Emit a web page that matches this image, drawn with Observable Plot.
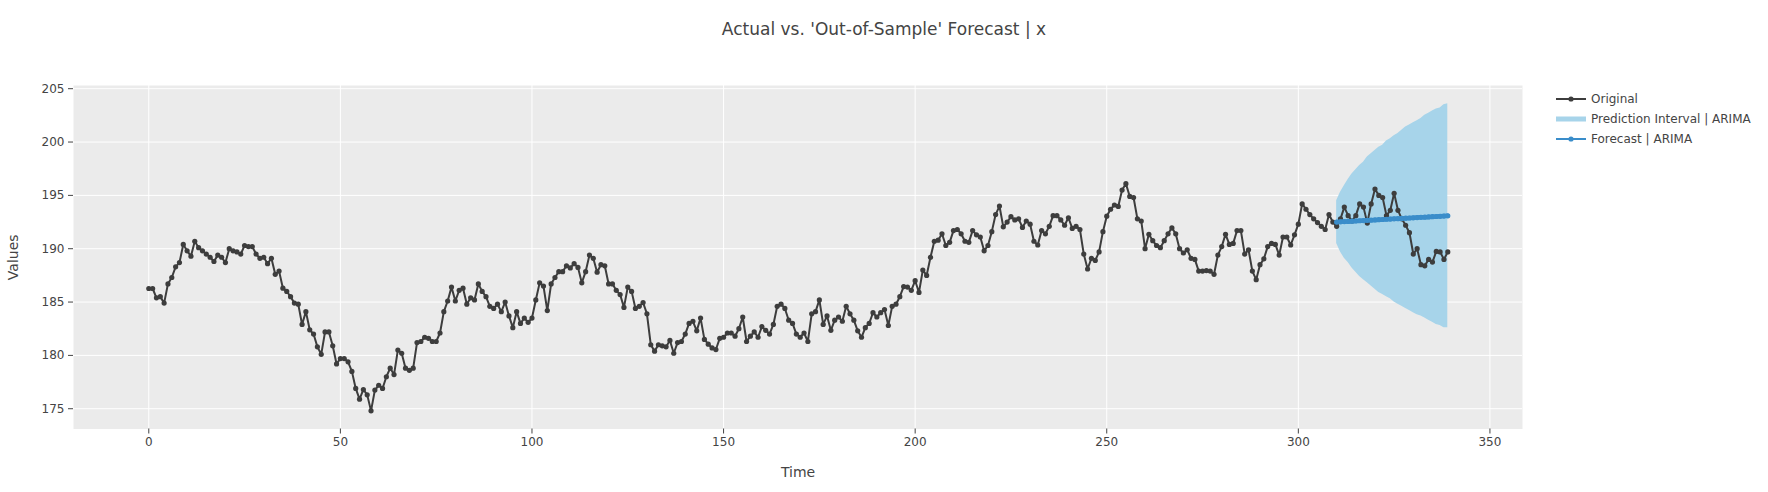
<!DOCTYPE html>
<html>
<head>
<meta charset="utf-8">
<script src="https://cdn.jsdelivr.net/npm/d3@7"></script>
<script src="https://cdn.jsdelivr.net/npm/@observablehq/plot@0.6"></script>
<style>
  body { margin: 0; background: #fff; }
  #wrap { position: relative; width: 1768px; height: 492px; font-family: "DejaVu Sans", Verdana, sans-serif; color: #444; }
  #title { position: absolute; left: 0; width: 1768px; top: 19px; line-height: 20px; text-align: center; font-size: 17px; color: #444; }
  #chart { position: absolute; left: 0; top: 60px; }
  #legend { position: absolute; left: 1556px; top: 89px; font-size: 12px; color: #444; }
  .row { display: flex; align-items: center; height: 20px; }
  .row svg { flex: none; margin-right: 5px; }
</style>
</head>
<body>
<div id="wrap">
  <div id="title">Actual vs. 'Out-of-Sample' Forecast | x</div>
  <div id="chart"></div>
  <div id="legend"></div>
</div>
<script>
// ---- data ----
const originalValues = [
  186.27,186.27,185.4,185.5,184.9,186.7,187.3,188.3,188.7,190.4,
  189.8,189.3,190.7,190.1,189.8,189.5,189.2,188.8,189.4,189.2,
  188.7,190.0,189.8,189.7,189.5,190.3,190.2,190.2,189.5,189.1,
  189.2,188.6,189.1,187.6,187.9,186.3,186.0,185.5,184.9,184.8,
  182.9,184.1,182.4,182.0,180.8,180.1,182.2,182.2,180.9,179.2,
  179.7,179.7,179.4,178.5,176.9,175.9,176.8,176.3,174.8,176.75,
  177.2,176.9,178.0,178.8,178.2,180.5,180.2,178.8,178.6,178.8,
  181.2,181.3,181.7,181.6,181.3,181.3,182.1,184.1,185.1,186.4,
  185.1,186.1,186.3,184.8,185.4,185.2,186.7,186.0,185.5,184.6,
  184.4,184.8,184.1,185.0,183.7,182.6,184.1,183.0,183.5,183.1,
  183.5,185.2,186.8,186.5,184.2,186.7,187.3,187.85,187.85,188.4,
  188.2,188.6,188.25,186.8,187.85,189.4,189.1,187.8,188.5,188.4,
  186.7,186.7,186.1,185.7,184.5,186.4,186.0,184.4,184.6,184.95,
  183.9,181.0,180.4,181.0,180.9,180.8,181.4,180.2,181.2,181.3,
  182.0,183.0,183.2,182.3,183.5,181.5,181.05,180.7,180.55,181.6,
  181.7,182.1,182.1,181.8,182.5,183.6,181.3,181.8,182.2,181.7,
  182.7,182.35,182.0,182.9,184.6,184.8,184.4,183.3,183.0,182.0,
  181.7,182.1,181.3,183.9,184.1,185.2,182.9,183.7,182.35,183.3,
  183.6,183.2,184.6,183.9,183.3,182.3,181.7,182.6,183.0,184.0,
  183.6,184.0,184.3,182.8,184.6,184.8,185.5,186.45,186.4,186.1,
  187.0,185.9,188.0,187.5,189.2,190.7,190.8,191.4,190.3,190.6,
  191.7,191.8,191.4,190.7,190.6,191.7,191.3,191.1,189.8,190.3,
  191.6,193.2,194.0,192.05,192.5,193.0,192.7,192.8,192.0,192.6,
  192.3,190.7,190.35,191.7,191.4,192.1,193.1,193.1,192.7,192.2,
  192.9,191.9,192.1,191.8,189.5,188.1,189.1,188.9,189.7,191.6,
  193.05,193.7,194.1,193.96,195.5,196.1,194.9,194.8,192.8,192.6,
  190.0,191.35,190.75,190.3,190.1,190.75,191.4,191.95,191.4,190.0,
  189.6,189.9,189.1,189.0,187.9,187.9,187.95,187.9,187.6,189.4,
  190.2,191.35,190.4,190.5,191.7,191.7,189.5,189.9,187.9,187.1,
  188.5,189.05,190.2,190.5,190.4,189.4,191.1,191.1,190.35,191.3,
  192.3,194.2,193.7,193.2,192.8,192.45,192.1,191.8,193.2,192.5,
  192.1,192.8,193.9,193.1,192.6,193.1,194.2,193.9,192.4,194.2,
  195.6,195.0,194.8,193.1,193.6,195.2,193.6,192.8,192.2,191.5,
  189.5,190.0,188.5,188.4,189.0,188.75,189.75,189.7,189.0,189.7
];
const forecastTimes = [310,311,312,313,314,315,316,317,318,319,320,321,322,323,324,325,326,327,328,329,330,331,332,333,334,335,336,337,338,339];
const forecastValues = [192.50,192.52,192.54,192.56,192.58,192.60,192.62,192.64,192.66,192.68,192.70,192.72,192.74,192.76,192.78,192.80,192.82,192.84,192.86,192.88,192.90,192.92,192.94,192.96,192.98,193.00,193.02,193.04,193.06,193.08];
const intervalUpper = [194.5,195.3,195.9,196.5,197.0,197.4,197.8,198.1,198.6,198.9,199.2,199.5,199.7,200.1,200.3,200.6,200.8,201.1,201.4,201.6,201.8,202.0,202.2,202.5,202.7,202.9,203.1,203.2,203.5,203.6];
const intervalLower = [190.5,189.7,189.1,188.7,188.2,187.8,187.4,187.1,186.8,186.5,186.2,185.9,185.7,185.5,185.3,185.0,184.8,184.6,184.4,184.2,184.0,183.8,183.7,183.5,183.3,183.1,182.9,182.8,182.6,182.6];
const xTicks = [0,50,100,150,200,250,300,350];
const yTicks = [175,180,185,190,195,200,205];
const seriesNames = ["Original", "Prediction Interval | ARIMA", "Forecast | ARIMA"];

// ---- tables ----
const orig = originalValues.map((v, i) => ({t: i, v}));
const fc = forecastTimes.map((t, i) => ({t, v: forecastValues[i], lo: intervalLower[i], hi: intervalUpper[i]}));

const cOrig = "#3d3d3d", cBand = "#a7d4ea", cFc = "#3a8dca";

const chart = Plot.plot({
  width: 1768,
  height: 432,
  marginLeft: 73,
  marginRight: 246,
  marginTop: 25,
  marginBottom: 63.5,
  style: {fontFamily: "'DejaVu Sans', Verdana, sans-serif", fontSize: "12px", color: "#444", background: "transparent"},
  x: {domain: [-19.65, 358.5]},
  y: {domain: [173.1, 205.3]},
  marks: [
    Plot.frame({fill: "#ebebeb", stroke: null}),
    Plot.gridX(xTicks, {stroke: "#fff", strokeOpacity: 1, strokeWidth: 1}),
    Plot.gridY(yTicks, {stroke: "#fff", strokeOpacity: 1, strokeWidth: 1}),
    Plot.areaY(fc, {x: "t", y1: "lo", y2: "hi", fill: cBand, curve: "linear"}),
    Plot.line(orig, {x: "t", y: "v", stroke: cOrig, strokeWidth: 2}),
    Plot.dot(orig, {x: "t", y: "v", r: 2.6, fill: cOrig, stroke: null}),
    Plot.line(fc, {x: "t", y: "v", stroke: cFc, strokeWidth: 4.5}),
    Plot.dot(fc, {x: "t", y: "v", r: 2.6, fill: cFc, stroke: null}),
    Plot.axisX(xTicks, {tickSize: 5, tickPadding: 3, stroke: "#444", label: null, fill: "#444"}),
    Plot.axisY(yTicks, {tickSize: 5, tickPadding: 4, stroke: "#444", label: null, fill: "#444"}),
    Plot.text(["Time"], {frameAnchor: "bottom", lineAnchor: "middle", textAnchor: "middle", dy: 43.5, fontSize: 14, fill: "#444"}),
    Plot.text(["Values"], {frameAnchor: "left", lineAnchor: "middle", textAnchor: "middle", dx: -59.5, rotate: -90, fontSize: 14, fill: "#444"})
  ]
});
document.getElementById("chart").appendChild(chart);

// ---- legend ----
const legend = document.getElementById("legend");
const symbols = [
  `<svg width="30" height="20"><line x1="0" x2="30" y1="10" y2="10" stroke="${cOrig}" stroke-width="2"/><circle cx="15" cy="10" r="2.6" fill="${cOrig}"/></svg>`,
  `<svg width="30" height="20"><rect x="0" y="7.5" width="30" height="5" fill="${cBand}"/></svg>`,
  `<svg width="30" height="20"><line x1="0" x2="30" y1="10" y2="10" stroke="${cFc}" stroke-width="2"/><circle cx="15" cy="10" r="2.6" fill="${cFc}"/></svg>`
];
seriesNames.forEach((name, i) => {
  const row = document.createElement("div");
  row.className = "row";
  row.innerHTML = symbols[i];
  const span = document.createElement("span");
  span.textContent = name;
  row.appendChild(span);
  legend.appendChild(row);
});
</script>
</body>
</html>
